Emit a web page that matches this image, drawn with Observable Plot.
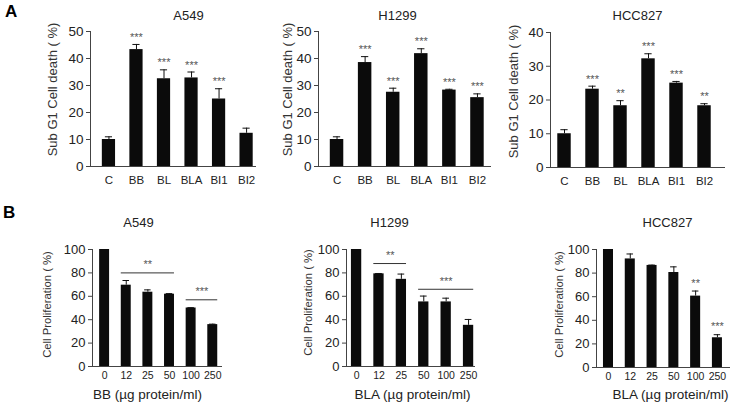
<!DOCTYPE html>
<html>
<head>
<meta charset="utf-8">
<script src="https://cdn.jsdelivr.net/npm/d3@7"></script>
<script src="https://cdn.jsdelivr.net/npm/@observablehq/plot@0.6"></script>
<style>
  html, body { margin: 0; padding: 0; background: #fff; }
  #fig { position: relative; width: 731px; height: 406px; overflow: hidden; font-family: "Liberation Sans", Arial, sans-serif; }
  .panel { position: absolute; }
  .letter { position: absolute; font-weight: bold; font-size: 17px; color: #000; }
</style>
</head>
<body>
<div id="fig">
  <div class="letter" style="left:5px; top:2px;">A</div>
  <div class="letter" style="left:3px; top:203px;">B</div>
</div>
<script>
// ---------- data ----------
const treatments = ["C", "BB", "BL", "BLA", "BI1", "BI2"];
const a549Death = [10, 43.3, 32.5, 32.8, 25, 12.3];
const a549DeathErr = [1, 1.9, 3.3, 2.2, 3.8, 1.9];
const a549DeathSig = ["", "***", "***", "***", "***", ""];
const h1299Death = [10, 38.5, 27.5, 41.8, 28.3, 25.5];
const h1299DeathErr = [1, 2.2, 1.5, 1.8, 0.3, 1.4];
const h1299DeathSig = ["", "***", "***", "***", "***", "***"];
const hcc827Death = [10, 23.2, 18.3, 32.2, 25, 18.3];
const hcc827DeathErr = [1.2, 0.9, 1.5, 1.5, 0.5, 0.6];
const hcc827DeathSig = ["", "***", "**", "***", "***", "**"];
const deathTicks = [0, 10, 20, 30, 40, 50];
const deathTicks40 = [0, 10, 20, 30, 40];

const doses = ["0", "12", "25", "50", "100", "250"];
const a549Prolif = [100, 69.5, 63.5, 61.8, 50, 35.8];
const a549ProlifErr = [0, 4, 2, 0.5, 0.3, 0.4];
const h1299Prolif = [100, 79.2, 74.5, 55.2, 55.2, 35.2];
const h1299ProlifErr = [0, 0.3, 4.5, 5, 3.2, 5];
const hcc827Prolif = [100, 92, 86.5, 80.5, 60.5, 25.2];
const hcc827ProlifErr = [0, 4.2, 0.3, 4.8, 4.3, 2.6];
const hcc827ProlifSig = ["", "", "", "", "**", "***"];
const prolifTicks = [0, 20, 40, 60, 80, 100];
// significance brackets (from dose index, to dose index, height, label)
const a549BracketFrom = [1, 4];
const a549BracketTo = [3, 5];
const a549BracketY = [80, 57];
const a549BracketLabel = ["**", "***"];
const h1299BracketFrom = [1, 3];
const h1299BracketTo = [2, 5];
const h1299BracketY = [88, 66];
const h1299BracketLabel = ["**", "***"];

// ---------- drawing ----------
const FONT = "Liberation Sans, Arial, sans-serif";
const fig = document.getElementById("fig");

function panel(o) {
  const rows = o.cats.map((c, i) => ({i, c, v: o.vals[i], e: o.errs[i], s: o.sig ? o.sig[i] : ""}));
  const brackets = (o.bFrom || []).map((f, k) => ({f, t: o.bTo[k], y: o.bY[k], l: o.bLabel[k]}));
  const w = o.right - o.left, h = o.bottom - o.top;
  const frameTL = (x, y) => ({dx: x - o.axisL, dy: y - o.yTop});
  const marks = [
    Plot.rect(rows, {x1: d => d.i - o.half, x2: d => d.i + o.half, y1: 0, y2: "v", fill: "#0b0b0b"}),
    Plot.ruleX(rows.filter(d => d.e > 0), {x: "i", y1: "v", y2: d => d.v + d.e, stroke: "#111", strokeWidth: 1}),
    Plot.ruleY(rows.filter(d => d.e > 0), {x1: d => d.i - o.cap, x2: d => d.i + o.cap, y: d => d.v + d.e, stroke: "#111", strokeWidth: 1}),
    Plot.text(rows.filter(d => d.s), {x: "i", y: d => d.v + d.e, text: "s", dy: o.starDy, fontSize: 11, fill: "#555", lineAnchor: "middle"}),
    Plot.ruleY(brackets, {x1: d => d.f - o.half, x2: d => d.t + o.half, y: "y", stroke: "#333", strokeWidth: 1}),
    Plot.text(brackets, {x: d => (d.f + d.t) / 2, y: "y", text: "l", dy: -8, fontSize: 11, fill: "#555", lineAnchor: "middle"}),
    Plot.ruleY([0], {stroke: "#444", strokeWidth: 1}),
    Plot.ruleX([o.lo], {stroke: "#444", strokeWidth: 1}),
    Plot.axisY({ticks: o.yticks, tickSize: 4, tickPadding: 3, label: null, stroke: "#444"}),
    Plot.axisX({ticks: [], label: null}),
    Plot.text(rows, {x: "i", frameAnchor: "bottom", text: "c", dy: o.xLabDy, fontSize: o.xTickSize, fill: "#222", lineAnchor: "middle"}),
    Plot.text([o.title], {frameAnchor: "top-left", ...frameTL(o.titleX, o.titleY), fontSize: 13, fill: "#222", textAnchor: "middle", lineAnchor: "middle"}),
    Plot.text([o.ylabel], {frameAnchor: "top-left", ...frameTL(o.ylabX, o.ylabY), rotate: -90, fontSize: o.ylabSize, fill: "#333", textAnchor: "middle", lineAnchor: "middle"})
  ];
  if (o.xtitle) marks.push(Plot.text([o.xtitle], {frameAnchor: "top-left", ...frameTL(o.xtX, o.xtY), fontSize: o.xtSize, fill: "#222", textAnchor: "middle", lineAnchor: "middle"}));
  const chart = Plot.plot({
    width: w, height: h,
    marginLeft: o.axisL - o.left, marginRight: o.right - o.axisR,
    marginTop: o.yTop - o.top, marginBottom: o.bottom - o.y0,
    style: {fontFamily: FONT, fontSize: o.yTickSize + "px", color: "#222", background: "transparent", overflow: "visible"},
    x: {type: "linear", domain: [o.lo, o.hi]},
    y: {domain: [0, o.ymax]},
    marks
  });
  const div = document.createElement("div");
  div.className = "panel";
  div.style.left = o.left + "px";
  div.style.top = o.top + "px";
  div.appendChild(chart);
  fig.appendChild(div);
}

const commonA = {top: 0, bottom: 200, yTop: 31, y0: 166, half: 0.24, cap: 0.13, starDy: -7, yTickSize: 13.5, xTickSize: 11.5, xLabDy: 14, ylabSize: 13, titleY: 15, cats: treatments, ylabY: 89};
panel({...commonA, left: 0, right: 262, axisL: 90, axisR: 256, lo: -0.67, hi: 5.36, vals: a549Death, errs: a549DeathErr, sig: a549DeathSig, ymax: 50, yticks: deathTicks, title: "A549", titleX: 188, ylabel: "Sub G1 Cell death ( %)", ylabX: 52});
panel({...commonA, left: 262, right: 494, axisL: 318, axisR: 491, lo: -0.66, hi: 5.5, vals: h1299Death, errs: h1299DeathErr, sig: h1299DeathSig, ymax: 50, yticks: deathTicks, title: "H1299", titleX: 397, ylabel: "Sub G1 Cell death ( %)", ylabX: 287});
panel({...commonA, left: 494, right: 731, axisL: 550, axisR: 725, yTop: 32, y0: 167, lo: -0.5, hi: 5.75, vals: hcc827Death, errs: hcc827DeathErr, sig: hcc827DeathSig, ymax: 40, yticks: deathTicks40, title: "HCC827", titleX: 637, ylabel: "Sub G1 Cell death ( %)", ylabX: 513, ylabY: 91});

const commonB = {top: 200, bottom: 406, yTop: 249, y0: 366, half: 0.23, cap: 0.15, starDy: -8, yTickSize: 13, xTickSize: 10.5, xLabDy: 9, ylabSize: 11.3, titleY: 222, xtY: 394, xtSize: 13.5, cats: doses};
panel({...commonB, left: 0, right: 228, axisL: 92, axisR: 222, lo: -0.56, hi: 5.45, vals: a549Prolif, errs: a549ProlifErr, ymax: 100, yticks: prolifTicks, title: "A549", titleX: 138, ylabel: "Cell Proliferation ( %)", ylabX: 47, ylabY: 304, xtitle: "BB (µg protein/ml)", xtX: 147, bFrom: a549BracketFrom, bTo: a549BracketTo, bY: a549BracketY, bLabel: a549BracketLabel});
panel({...commonB, left: 228, right: 482, axisL: 346, axisR: 475, lo: -0.45, hi: 5.31, vals: h1299Prolif, errs: h1299ProlifErr, ymax: 100, yticks: prolifTicks, title: "H1299", titleX: 389, ylabel: "Cell Proliferation ( %)", ylabX: 308, ylabY: 302, xtitle: "BLA (µg protein/ml)", xtX: 412, bFrom: h1299BracketFrom, bTo: h1299BracketTo, bY: h1299BracketY, bLabel: h1299BracketLabel});
panel({...commonB, left: 482, right: 731, axisL: 596, axisR: 730, yTop: 249, y0: 367, lo: -0.55, hi: 5.6, vals: hcc827Prolif, errs: hcc827ProlifErr, sig: hcc827ProlifSig, ymax: 100, yticks: prolifTicks, title: "HCC827", titleX: 667, ylabel: "Cell Proliferation ( %)", ylabX: 559, ylabY: 304, xtitle: "BLA (µg protein/ml)", xtX: 670});
</script>
</body>
</html>
